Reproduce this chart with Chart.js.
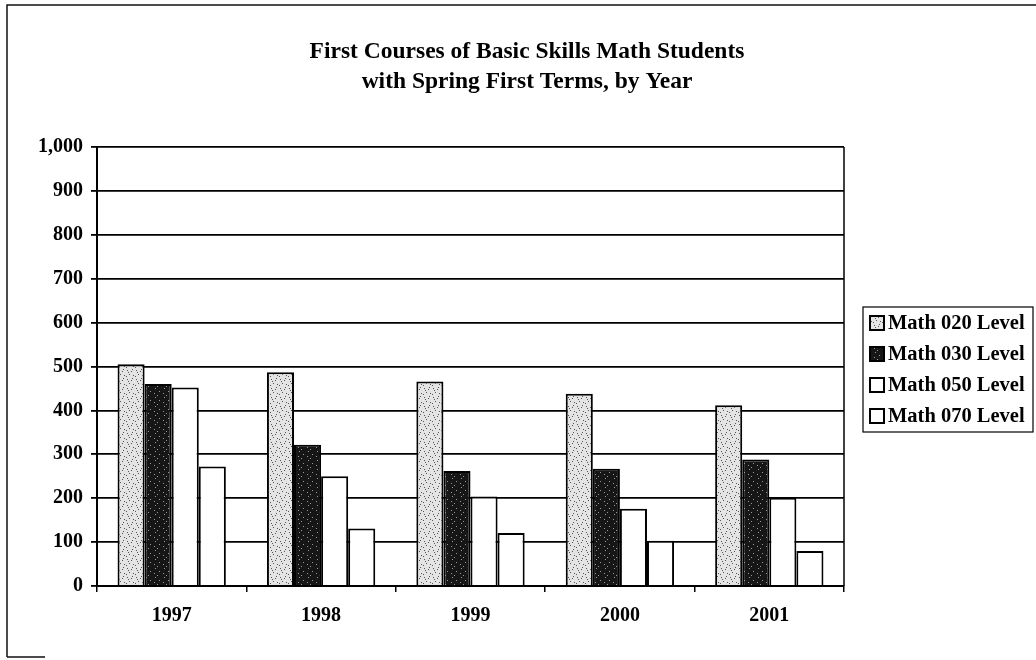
<!DOCTYPE html>
<html>
<head>
<meta charset="utf-8">
<title>First Courses of Basic Skills Math Students</title>
<script src="https://cdn.jsdelivr.net/npm/chart.js@4.4.1/dist/chart.umd.min.js"></script>
<style>
  html, body { margin:0; padding:0; background:#fff; }
  #wrap { width:1036px; height:660px; position:relative; }
</style>
</head>
<body>
<div id="wrap"><canvas id="chart" width="1036" height="660"></canvas></div>
<script>
// data
const years = ['1997', '1998', '1999', '2000', '2001'];
const math020 = [505, 487, 466, 438, 412];
const math030 = [460, 322, 262, 267, 288];
const math050 = [452, 250, 204, 176, 201];
const math070 = [272, 131, 121, 103, 80];
const seriesNames = ['Math 020 Level', 'Math 030 Level', 'Math 050 Level', 'Math 070 Level'];
const titleLines = ['First Courses of Basic Skills Math Students', 'with Spring First Terms, by Year'];

const SERIF = '"Liberation Serif", "DejaVu Serif", serif';

// speckled fills, like the scanned print
function stipple(bg, dot, spots){
  const c = document.createElement('canvas');
  c.width = 9; c.height = 9;
  const g = c.getContext('2d');
  g.fillStyle = bg; g.fillRect(0,0,9,9);
  g.fillStyle = dot;
  spots.forEach(([x,y])=>g.fillRect(x,y,1,1));
  return g.createPattern(c, 'repeat');
}
const lightFill = stipple('#e4e4e4', '#555', [[1,1],[5,2],[3,5],[7,6],[0,7],[6,0],[2,3]]);
const darkFill = stipple('#161616', '#9a9a9a', [[2,1],[6,4],[1,6],[4,8]]);
const fills = [lightFill, darkFill, '#ffffff', '#ffffff'];

const framePlugin = {
  id: 'frame',
  beforeDraw(chart){
    const ctx = chart.ctx;
    ctx.save();
    ctx.fillStyle = '#fff';
    ctx.fillRect(0,0,chart.width,chart.height);
    ctx.strokeStyle = '#111';
    ctx.lineWidth = 1.5;
    ctx.beginPath();
    ctx.moveTo(7, 657); ctx.lineTo(7, 5); ctx.lineTo(1036, 5);
    ctx.moveTo(7, 657); ctx.lineTo(45, 657);
    ctx.stroke();
    // two-line title, centred over the whole page rather than the plot
    ctx.fillStyle = '#000';
    ctx.font = 'bold 23.5px ' + SERIF;
    ctx.textAlign = 'center';
    ctx.textBaseline = 'middle';
    titleLines.forEach((t, i)=>ctx.fillText(t, 527, 52 + i * 30));
    ctx.restore();
  },
  afterDatasetsDraw(chart){
    const {ctx, chartArea:a} = chart;
    ctx.save();
    ctx.strokeStyle = '#000';
    ctx.lineWidth = 1.5;
    ctx.beginPath();
    ctx.moveTo(a.right, a.top); ctx.lineTo(a.right, a.bottom);
    ctx.stroke();
    ctx.restore();
  }
};

// legend box on the right, drawn from the datasets
const boxLegend = {
  id: 'boxLegend',
  afterDraw(chart){
    const ctx = chart.ctx;
    const x0 = 863, y0 = 307, w = 170, h = 125;
    ctx.save();
    ctx.fillStyle = '#fff';
    ctx.fillRect(x0, y0, w, h);
    ctx.strokeStyle = '#000';
    ctx.lineWidth = 1.2;
    ctx.strokeRect(x0, y0, w, h);
    ctx.font = 'bold 20.5px ' + SERIF;
    ctx.textBaseline = 'middle';
    chart.data.datasets.forEach((ds, i)=>{
      const cy = y0 + 16 + i * 31;
      ctx.fillStyle = ds.backgroundColor;
      ctx.fillRect(x0 + 7, cy - 7, 14, 14);
      ctx.lineWidth = 2;
      ctx.strokeRect(x0 + 7, cy - 7, 14, 14);
      ctx.fillStyle = '#000';
      ctx.fillText(ds.label, x0 + 25, cy + 1);
    });
    ctx.restore();
  }
};

new Chart(document.getElementById('chart'), {
  type: 'bar',
  data: {
    labels: years,
    datasets: [math020, math030, math050, math070].map((vals, i)=>({
      label: seriesNames[i],
      data: vals,
      backgroundColor: fills[i],
      borderColor: '#000',
      borderWidth: 2,
      borderSkipped: 'bottom',
      barPercentage: 1,
      categoryPercentage: 0.725
    }))
  },
  options: {
    responsive: false,
    animation: false,
    layout: { padding: { top: 147, right: 192, bottom: 0, left: 0 } },
    plugins: {
      legend: { display: false },
      tooltip: { enabled: false },
      title: { display: false }
    },
    scales: {
      x: {
        afterFit: s => { s.height = 74; },
        grid: { display: true, drawOnChartArea: false, drawTicks: true, tickLength: 6, color: '#000', lineWidth: 1.5, offset: true },
        border: { display: true, color: '#000', width: 2 },
        ticks: { color: '#000', padding: 12, font: { family: SERIF, size: 20, weight: 'bold' } }
      },
      y: {
        min: 0,
        max: 1000,
        afterFit: s => { s.width = 97; },
        grid: { color: '#000', lineWidth: 1.8, tickLength: 6 },
        border: { display: true, color: '#000', width: 2 },
        ticks: {
          stepSize: 100,
          color: '#000',
          padding: 8,
          font: { family: SERIF, size: 20, weight: 'bold' },
          callback: v => v.toLocaleString('en-US')
        }
      }
    }
  },
  plugins: [framePlugin, boxLegend]
});
</script>
</body>
</html>
